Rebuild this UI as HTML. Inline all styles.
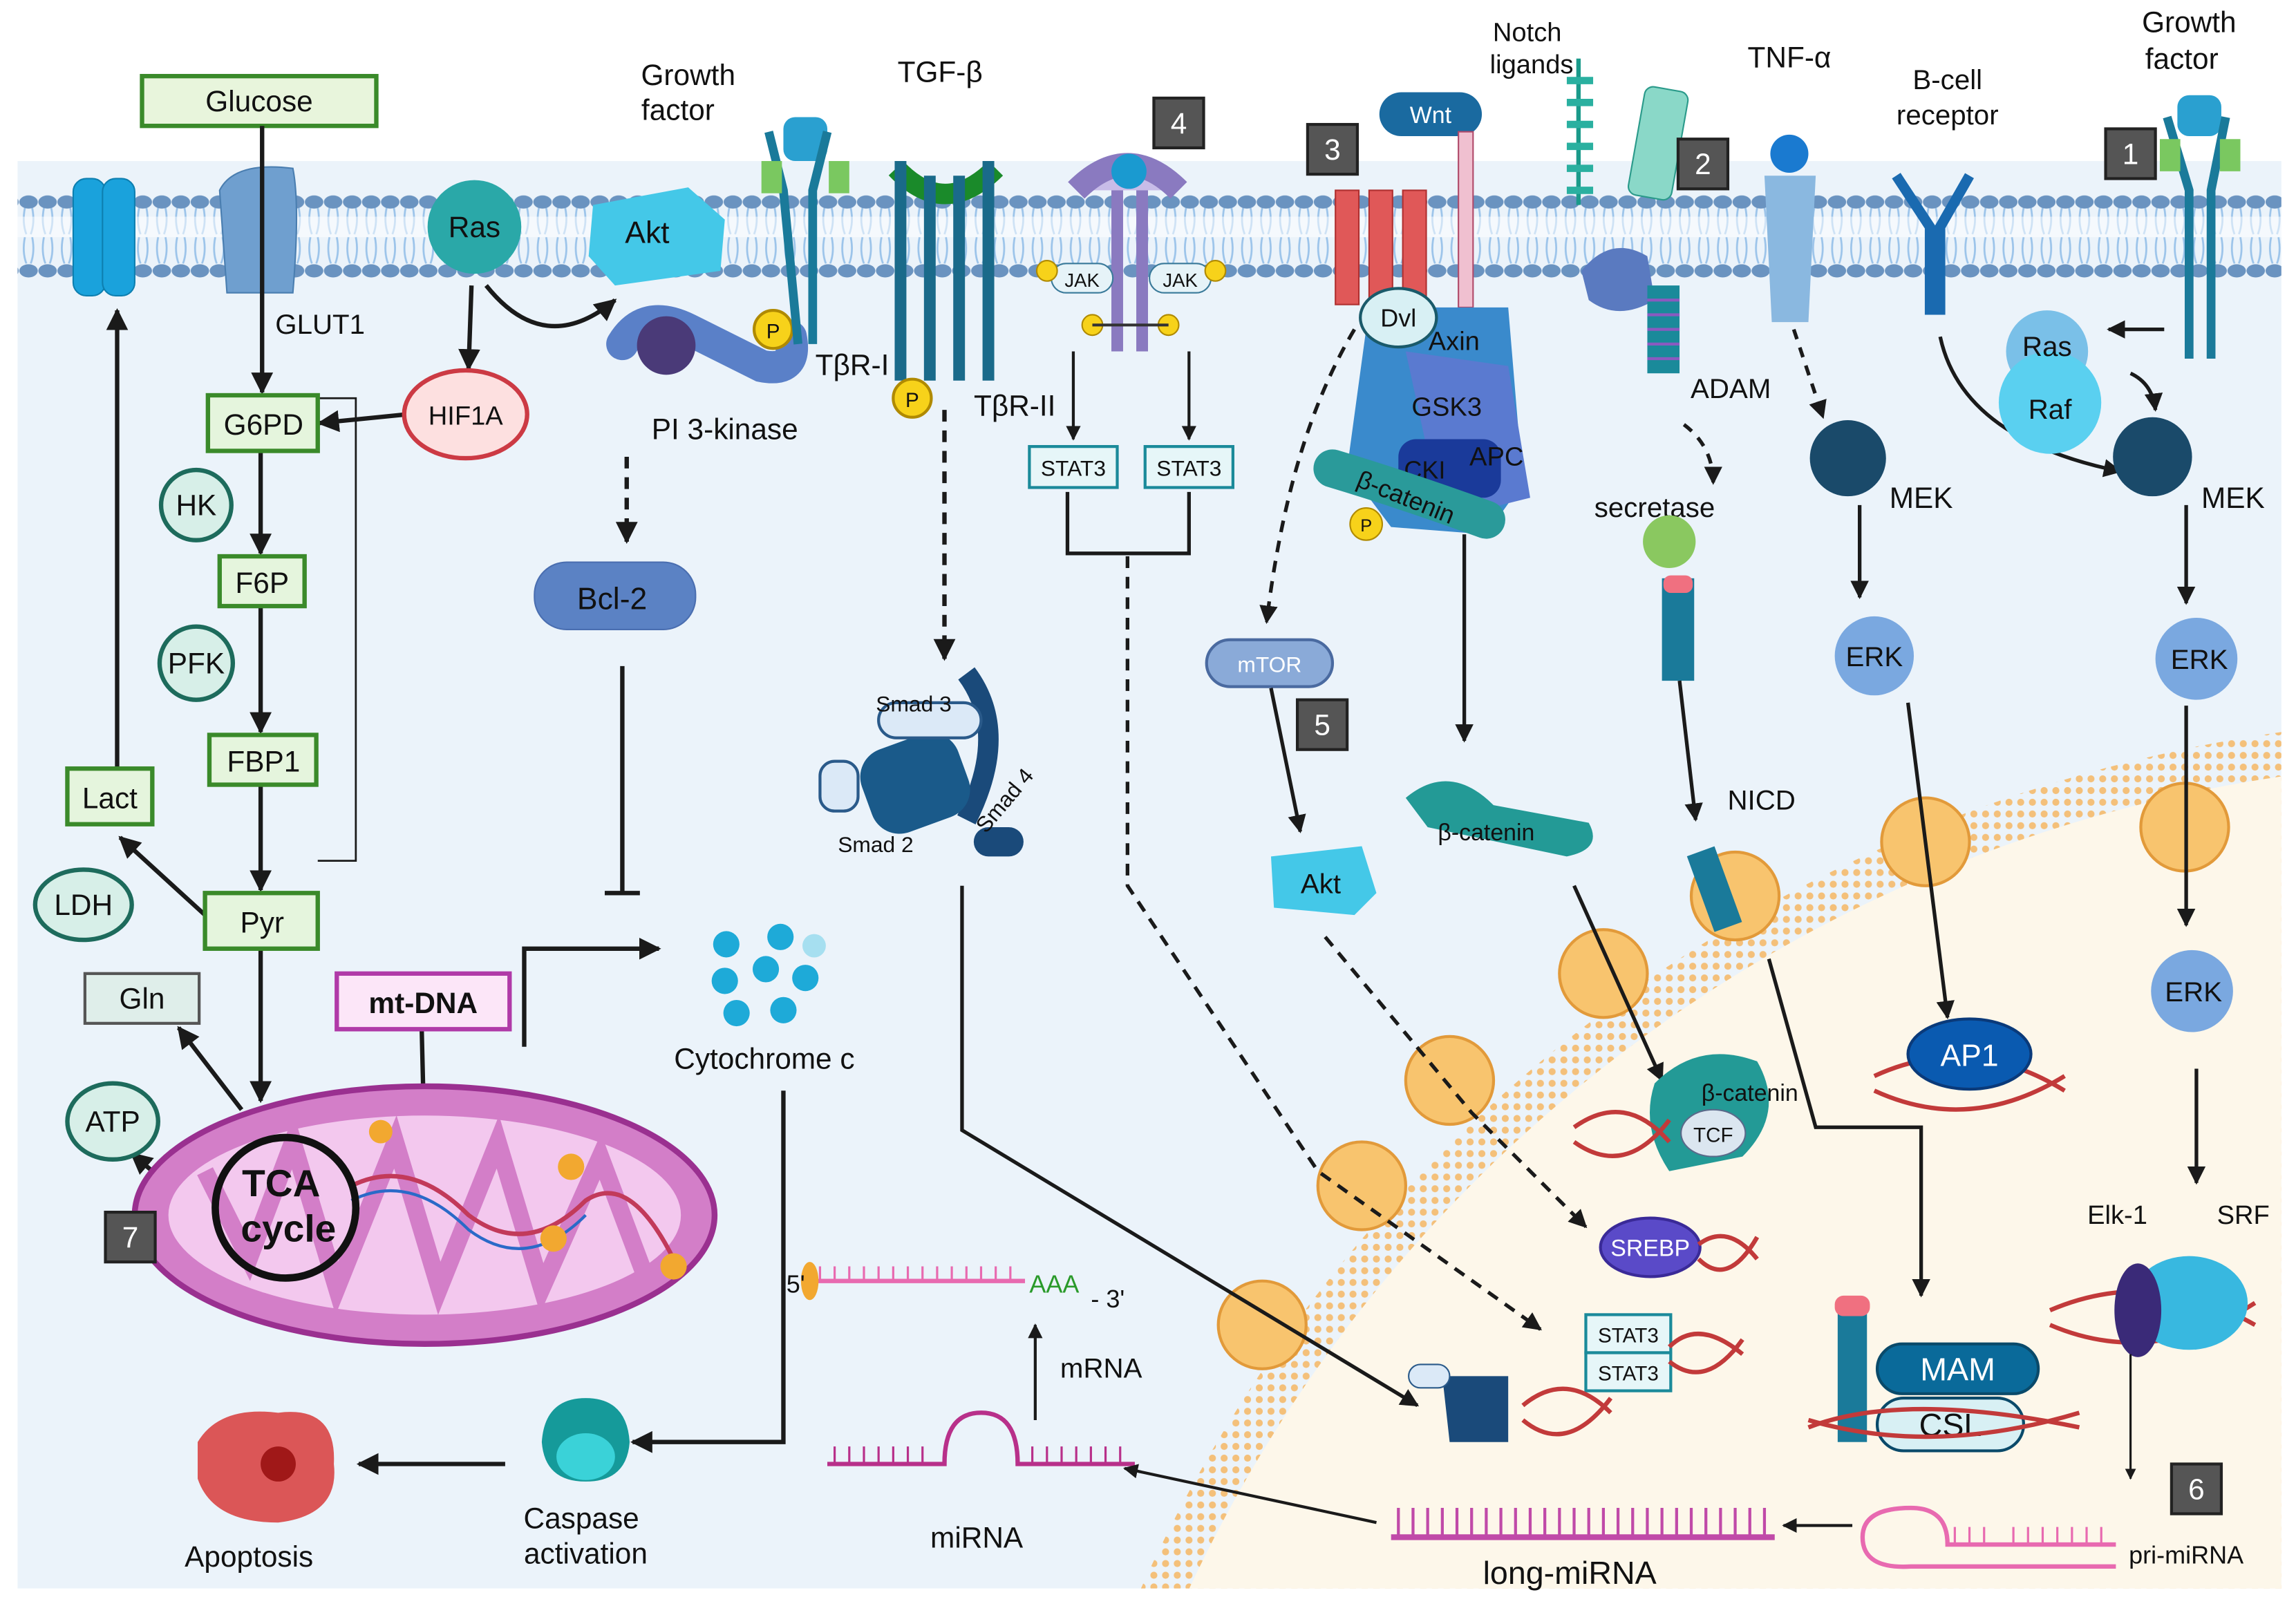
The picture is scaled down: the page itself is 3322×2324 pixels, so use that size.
<!DOCTYPE html>
<html><head><meta charset="utf-8"><style>
html,body{margin:0;padding:0;background:#fff;width:3322px;height:2324px;overflow:hidden}
svg{display:block}
text{font-family:"Liberation Sans",sans-serif;fill:#111}
</style></head><body>
<svg width="3322" height="2324" viewBox="0 0 1568 1097" preserveAspectRatio="none" xmlns="http://www.w3.org/2000/svg">
<defs>
<marker id="ah" viewBox="0 0 10 10" refX="9" refY="5" markerWidth="5" markerHeight="5" orient="auto"><path d="M0,0L10,5L0,10z" fill="#1a1a1a"/></marker>
<pattern id="mem" width="13" height="66" patternUnits="userSpaceOnUse" y="128">
<path d="M4,14 Q2,24 5,32 M9,14 Q11,24 8,32 M4,34 Q2,44 5,52 M9,34 Q11,44 8,52" stroke="#9cc4ea" stroke-width="1.3" fill="none"/>
<ellipse cx="6.5" cy="10" rx="6.3" ry="4.5" fill="#6a93c0"/>
<ellipse cx="6.5" cy="57" rx="6.3" ry="4.5" fill="#6a93c0"/>
</pattern>
<pattern id="nmem" width="8" height="8" patternUnits="userSpaceOnUse"><circle cx="4" cy="4" r="2.4" fill="#f4c07a"/></pattern>
<clipPath id="panel"><rect x="12" y="110" width="1546" height="975"/></clipPath>
</defs>
<rect width="1568" height="1097" fill="#fff"/>
<rect x="12" y="110" width="1546" height="975" fill="#ebf3fa"/>
<rect x="12" y="128" width="1546" height="70" fill="url(#mem)"/>
<rect x="12" y="148" width="1546" height="14" fill="#fff" opacity="0.5"/>
<g clip-path="url(#panel)">
<circle cx="1700" cy="1500" r="1010" fill="url(#nmem)"/>
<circle cx="1700" cy="1500" r="980" fill="#fdf7ea"/>
<g fill="#f8c46e" stroke="#e29a3a" stroke-width="2">
<circle cx="862" cy="905" r="30"/><circle cx="930" cy="810" r="30"/><circle cx="990" cy="738" r="30"/>
<circle cx="1095" cy="665" r="30"/><circle cx="1185" cy="612" r="30"/><circle cx="1315" cy="575" r="30"/><circle cx="1492" cy="565" r="30"/>
</g>
</g>
<rect x="50" y="122" width="22" height="80" rx="9" fill="#1aa2dc" stroke="#0d7fb0"/>
<rect x="70" y="122" width="22" height="80" rx="9" fill="#1aa2dc" stroke="#0d7fb0"/>
<path d="M150,130 Q160,110 200,115 Q205,140 200,200 L155,200 Q152,160 150,130z" fill="#6f9fcf" stroke="#4a7eb0"/>
<text x="188" y="228" font-size="19">GLUT1</text>
<rect x="97" y="52" width="160" height="34" fill="#e8f5dc" stroke="#3a8a2a" stroke-width="3"/>
<text x="177" y="76" font-size="20" text-anchor="middle">Glucose</text>
<g stroke="#1a1a1a" stroke-width="3" fill="none" marker-end="url(#ah)">
<line x1="179" y1="86" x2="179" y2="268"/>
<line x1="178" y1="308" x2="178" y2="378"/>
<line x1="178" y1="414" x2="178" y2="500"/>
<line x1="178" y1="536" x2="178" y2="608"/>
<line x1="178" y1="648" x2="178" y2="752"/>
<line x1="80" y1="525" x2="80" y2="212"/>
<line x1="140" y1="625" x2="82" y2="572"/>
<line x1="165" y1="758" x2="122" y2="702"/>
<line x1="110" y1="805" x2="90" y2="788"/>
<line x1="278" y1="283" x2="218" y2="289"/>
<line x1="322" y1="195" x2="320" y2="252"/>
<path d="M332,195 Q372,245 420,205"/>
<line x1="288" y1="703" x2="290" y2="785"/>
<path d="M358,715 L358,648 L450,648"/>
<path d="M535,745 L535,985 L432,985"/>
<line x1="345" y1="1000" x2="245" y2="1000"/>
</g>
<path d="M217,272 L243,272 L243,588 L217,588" stroke="#1a1a1a" stroke-width="1.3" fill="none"/>
<g stroke="#3a8a2a" stroke-width="3" fill="#e5f5dd">
<rect x="142" y="270" width="75" height="38"/><rect x="150" y="380" width="58" height="34"/>
<rect x="143" y="502" width="73" height="34"/><rect x="140" y="610" width="77" height="38"/>
<rect x="46" y="525" width="58" height="38"/>
</g>
<rect x="58" y="665" width="78" height="34" fill="#dfeeea" stroke="#555" stroke-width="2"/>
<g font-size="20" text-anchor="middle">
<text x="180" y="297">G6PD</text><text x="179" y="405">F6P</text><text x="180" y="527">FBP1</text>
<text x="179" y="637">Pyr</text><text x="75" y="552">Lact</text><text x="97" y="689">Gln</text>
</g>
<g fill="#d7efe8" stroke="#1d6b5c" stroke-width="3">
<circle cx="134" cy="345" r="24"/><circle cx="134" cy="453" r="25"/>
<ellipse cx="57" cy="618" rx="33" ry="24"/><ellipse cx="77" cy="766" rx="31" ry="26"/>
</g>
<g font-size="20" text-anchor="middle">
<text x="134" y="352">HK</text><text x="134" y="460">PFK</text><text x="57" y="625">LDH</text><text x="77" y="773">ATP</text>
</g>
<ellipse cx="318" cy="283" rx="42" ry="30" fill="#fde0e0" stroke="#cc3a44" stroke-width="3"/>
<text x="318" y="290" font-size="18" text-anchor="middle">HIF1A</text>
<circle cx="324" cy="155" r="32" fill="#2aa8a8"/><text x="324" y="162" font-size="20" text-anchor="middle">Ras</text>
<path d="M405,140 L470,128 L495,150 L492,185 L420,195 L402,175z" fill="#44c8e8"/><text x="442" y="166" font-size="21" text-anchor="middle">Akt</text>
<path d="M425,235 Q440,210 470,225 Q500,240 520,250 Q545,255 540,230" stroke="#5a80c8" stroke-width="22" fill="none" stroke-linecap="round"/>
<circle cx="455" cy="236" r="20" fill="#4a3a78"/>
<circle cx="528" cy="225" r="13" fill="#f7d21a" stroke="#b08a00" stroke-width="2"/><text x="528" y="231" font-size="14" text-anchor="middle">P</text>
<text x="495" y="300" font-size="20" text-anchor="middle">PI 3-kinase</text>
<line x1="428" y1="312" x2="428" y2="370" stroke="#1a1a1a" stroke-width="3" stroke-dasharray="8,6" marker-end="url(#ah)"/>
<rect x="365" y="384" width="110" height="46" rx="22" fill="#5b82c4" stroke="#4a6eb0"/>
<text x="418" y="416" font-size="21" text-anchor="middle">Bcl-2</text>
<line x1="425" y1="455" x2="425" y2="610" stroke="#1a1a1a" stroke-width="3"/>
<line x1="413" y1="610" x2="437" y2="610" stroke="#1a1a1a" stroke-width="3"/>
<g fill="#1eaad8"><circle cx="496" cy="645" r="9"/><circle cx="533" cy="640" r="9"/><circle cx="523" cy="662" r="9"/><circle cx="495" cy="670" r="9"/><circle cx="550" cy="668" r="9"/><circle cx="503" cy="692" r="9"/><circle cx="535" cy="690" r="9"/></g>
<circle cx="556" cy="646" r="8" fill="#a6dff0"/>
<text x="522" y="730" font-size="20" text-anchor="middle">Cytochrome c</text>
<ellipse cx="290" cy="830" rx="198" ry="88" fill="#d37ec8" stroke="#9a3090" stroke-width="4"/>
<ellipse cx="290" cy="830" rx="175" ry="68" fill="#f3c8ee"/>
<path d="M140,800 L170,860 L200,780 L230,880 L270,780 L300,880 L340,780 L370,880 L410,790 L440,870" stroke="#d37ec8" stroke-width="12" fill="none"/>
<path d="M240,810 Q280,790 320,830 Q360,860 400,820 Q430,800 460,860" stroke="#c23a5a" stroke-width="3" fill="none"/>
<path d="M240,820 Q280,800 320,840 Q360,870 400,830" stroke="#2a6ac8" stroke-width="2" fill="none"/>
<g fill="#f2a830"><circle cx="260" cy="773" r="8"/><circle cx="390" cy="797" r="9"/><circle cx="378" cy="846" r="9"/><circle cx="460" cy="865" r="9"/></g>
<circle cx="195" cy="825" r="48" fill="none" stroke="#111" stroke-width="5"/>
<text x="192" y="817" font-size="26" font-weight="bold" text-anchor="middle">TCA</text>
<text x="197" y="848" font-size="26" font-weight="bold" text-anchor="middle">cycle</text>
<rect x="72" y="828" width="34" height="34" fill="#555" stroke="#222" stroke-width="2"/><text x="89" y="852" font-size="20" text-anchor="middle" style="fill:#fff">7</text>
<rect x="230" y="665" width="118" height="38" fill="#fce6f8" stroke="#b03aa8" stroke-width="3"/>
<text x="289" y="692" font-size="20" font-weight="bold" text-anchor="middle">mt-DNA</text>
<path d="M370,985 Q372,955 400,955 Q428,955 430,985 Q428,1012 400,1012 Q372,1012 370,985z" fill="#159a9a"/>
<ellipse cx="400" cy="995" rx="20" ry="16" fill="#3ad2d8"/>
<text x="397" y="1044" font-size="20" text-anchor="middle">Caspase</text><text x="400" y="1068" font-size="20" text-anchor="middle">activation</text>
<path d="M135,985 Q150,960 190,965 Q230,960 228,1000 Q232,1035 190,1040 Q145,1040 135,1010z" fill="#d83a3a" opacity="0.85"/>
<circle cx="190" cy="1000" r="12" fill="#a01818"/>
<text x="170" y="1070" font-size="20" text-anchor="middle">Apoptosis</text>
<line x1="555" y1="875" x2="700" y2="875" stroke="#e86ab0" stroke-width="3"/>
<path d="M560,875 v-10 M570,875 v-10 M580,875 v-10 M590,875 v-10 M600,875 v-10 M610,875 v-10 M620,875 v-10 M630,875 v-10 M640,875 v-10 M650,875 v-10 M660,875 v-10 M670,875 v-10 M680,875 v-10 M690,875 v-10" stroke="#e86ab0" stroke-width="1.5"/>
<ellipse cx="553" cy="875" rx="6" ry="13" fill="#f2a830"/>
<text x="537" y="883" font-size="17">5'</text>
<text x="703" y="883" font-size="17" style="fill:#2a9a2a">AAA</text>
<text x="745" y="893" font-size="17">- 3'</text>
<text x="752" y="941" font-size="19" text-anchor="middle">mRNA</text>
<line x1="707" y1="970" x2="707" y2="905" stroke="#1a1a1a" stroke-width="2" marker-end="url(#ah)"/>
<path d="M565,1000 L645,1000 Q645,965 670,965 Q695,965 695,1000 L775,1000" stroke="#b8308a" stroke-width="3" fill="none"/>
<path d="M570,1000 v-12 M580,1000 v-12 M590,1000 v-12 M600,1000 v-12 M610,1000 v-12 M620,1000 v-12 M630,1000 v-12 M705,1000 v-12 M715,1000 v-12 M725,1000 v-12 M735,1000 v-12 M745,1000 v-12 M755,1000 v-12 M765,1000 v-12" stroke="#b8308a" stroke-width="1.5"/>
<text x="667" y="1057" font-size="20" text-anchor="middle">miRNA</text>
<line x1="940" y1="1040" x2="768" y2="1003" stroke="#1a1a1a" stroke-width="2" marker-end="url(#ah)"/>
<line x1="950" y1="1050" x2="1212" y2="1050" stroke="#c04aa8" stroke-width="4"/>
<path d="M955,1050 v-20 M965,1050 v-20 M975,1050 v-20 M985,1050 v-20 M995,1050 v-20 M1005,1050 v-20 M1015,1050 v-20 M1025,1050 v-20 M1035,1050 v-20 M1045,1050 v-20 M1055,1050 v-20 M1065,1050 v-20 M1075,1050 v-20 M1085,1050 v-20 M1095,1050 v-20 M1105,1050 v-20 M1115,1050 v-20 M1125,1050 v-20 M1135,1050 v-20 M1145,1050 v-20 M1155,1050 v-20 M1165,1050 v-20 M1175,1050 v-20 M1185,1050 v-20 M1195,1050 v-20 M1205,1050 v-20" stroke="#c04aa8" stroke-width="2"/>
<text x="1072" y="1082" font-size="22" text-anchor="middle">long-miRNA</text>
<line x1="1265" y1="1042" x2="1218" y2="1042" stroke="#1a1a1a" stroke-width="2" marker-end="url(#ah)"/>
<path d="M1445,1055 L1330,1055 Q1330,1030 1305,1030 Q1272,1030 1272,1050 Q1272,1072 1305,1070 L1445,1070" stroke="#e86ab0" stroke-width="3" fill="none"/>
<path d="M1335,1055 v-12 M1345,1055 v-12 M1355,1055 v-12 M1375,1055 v-12 M1385,1055 v-12 M1395,1055 v-12 M1405,1055 v-12 M1415,1055 v-12 M1425,1055 v-12 M1435,1055 v-12" stroke="#e86ab0" stroke-width="1.5"/>
<text x="1493" y="1068" font-size="17" text-anchor="middle">pri-miRNA</text>
<rect x="1483" y="1000" width="34" height="34" fill="#555" stroke="#222" stroke-width="2"/><text x="1500" y="1024" font-size="20" text-anchor="middle" style="fill:#fff">6</text>
<text x="470" y="58" font-size="20" text-anchor="middle">Growth</text><text x="463" y="82" font-size="20" text-anchor="middle">factor</text>
<rect x="535" y="80" width="30" height="30" rx="8" fill="#2aa0d0"/>
<path d="M525,90 L535,130 L545,235 M565,90 L555,130 L555,235" stroke="#1a7a9a" stroke-width="6" fill="none"/>
<rect x="520" y="110" width="14" height="22" fill="#7ac860"/><rect x="566" y="110" width="14" height="22" fill="#7ac860"/>
<text x="642" y="56" font-size="20" text-anchor="middle">TGF-β</text>
<path d="M612,115 Q645,150 680,115" stroke="#1a8a2a" stroke-width="14" fill="none"/>
<g stroke="#1a6a8a" stroke-width="8"><line x1="615" y1="110" x2="615" y2="260"/><line x1="635" y1="120" x2="635" y2="260"/><line x1="655" y1="120" x2="655" y2="260"/><line x1="675" y1="110" x2="675" y2="260"/></g>
<circle cx="623" cy="272" r="13" fill="#f7d21a" stroke="#b08a00" stroke-width="2"/><text x="623" y="278" font-size="14" text-anchor="middle">P</text>
<text x="582" y="256" font-size="20" text-anchor="middle">TβR-I</text><text x="693" y="284" font-size="20" text-anchor="middle">TβR-II</text>
<line x1="645" y1="280" x2="645" y2="450" stroke="#1a1a1a" stroke-width="3" stroke-dasharray="8,6" marker-end="url(#ah)"/>
<path d="M660,460 Q690,500 660,560" stroke="#1a4a7a" stroke-width="14" fill="none"/>
<rect x="590" y="505" width="70" height="60" rx="20" fill="#1a5a8a" transform="rotate(-20 625 535)"/>
<rect x="600" y="480" width="70" height="24" rx="12" fill="#dbe9f7" stroke="#2a5a8a" stroke-width="2"/>
<rect x="560" y="520" width="26" height="34" rx="10" fill="#dbe9f7" stroke="#2a5a8a" stroke-width="2"/>
<rect x="665" y="565" width="34" height="20" rx="10" fill="#1a4a7a"/>
<text x="624" y="486" font-size="15" text-anchor="middle">Smad 3</text>
<text x="598" y="582" font-size="15" text-anchor="middle">Smad 2</text>
<text x="690" y="550" font-size="15" text-anchor="middle" transform="rotate(-50 690 550)">Smad 4</text>
<path d="M657,605 L657,772 L968,960" stroke="#1a1a1a" stroke-width="2.5" fill="none" marker-end="url(#ah)"/>
<path d="M735,130 Q770,95 805,130" stroke="#8a7ac0" stroke-width="16" fill="#c8bce8"/>
<circle cx="771" cy="117" r="12" fill="#1a9ad0"/>
<g stroke="#8a7ac0" stroke-width="8"><line x1="763" y1="130" x2="763" y2="240"/><line x1="780" y1="130" x2="780" y2="240"/></g>
<rect x="788" y="67" width="34" height="34" fill="#555" stroke="#222" stroke-width="2"/><text x="805" y="91" font-size="20" text-anchor="middle" style="fill:#fff">4</text>
<rect x="718" y="180" width="42" height="20" rx="10" fill="#e6f3f8" stroke="#3a7a9a"/><text x="739" y="196" font-size="13" text-anchor="middle">JAK</text>
<rect x="785" y="180" width="42" height="20" rx="10" fill="#e6f3f8" stroke="#3a7a9a"/><text x="806" y="196" font-size="13" text-anchor="middle">JAK</text>
<g fill="#f7d21a" stroke="#b08a00"><circle cx="715" cy="185" r="7"/><circle cx="830" cy="185" r="7"/><circle cx="746" cy="222" r="7"/><circle cx="798" cy="222" r="7"/></g>
<line x1="746" y1="222" x2="798" y2="222" stroke="#333" stroke-width="2"/>
<g stroke="#1a1a1a" stroke-width="2" marker-end="url(#ah)"><line x1="733" y1="240" x2="733" y2="300"/><line x1="812" y1="240" x2="812" y2="300"/></g>
<rect x="703" y="305" width="60" height="28" fill="#e6f6f8" stroke="#1a8a9a" stroke-width="2"/><text x="733" y="325" font-size="15" text-anchor="middle">STAT3</text>
<rect x="782" y="305" width="60" height="28" fill="#e6f6f8" stroke="#1a8a9a" stroke-width="2"/><text x="812" y="325" font-size="15" text-anchor="middle">STAT3</text>
<path d="M729,336 L729,378 L812,378 L812,336" stroke="#1a1a1a" stroke-width="2.5" fill="none"/>
<path d="M770,380 L770,605 L900,800 L1052,908" stroke="#1a1a1a" stroke-width="2.5" stroke-dasharray="8,6" fill="none" marker-end="url(#ah)"/>
<rect x="1083" y="898" width="58" height="26" fill="#e6f6f8" stroke="#1a8a9a" stroke-width="2"/><text x="1112" y="917" font-size="14" text-anchor="middle">STAT3</text>
<rect x="1083" y="924" width="58" height="26" fill="#e6f6f8" stroke="#1a8a9a" stroke-width="2"/><text x="1112" y="943" font-size="14" text-anchor="middle">STAT3</text>
<path d="M1140,920 Q1160,900 1190,925 M1140,930 Q1165,950 1190,915" stroke="#c23a3a" stroke-width="3" fill="none"/>
<path d="M985,940 L1030,940 L1030,985 L990,985z" fill="#1a4a7a"/>
<rect x="962" y="932" width="28" height="16" rx="8" fill="#dbe9f7" stroke="#2a5a8a"/>
<path d="M1040,960 Q1070,935 1100,965 M1040,970 Q1070,995 1100,955" stroke="#c23a3a" stroke-width="3" fill="none"/>
<rect x="942" y="63" width="70" height="30" rx="15" fill="#1a6aa0"/><text x="977" y="84" font-size="16" text-anchor="middle" style="fill:#fff">Wnt</text>
<rect x="893" y="85" width="34" height="34" fill="#555" stroke="#222" stroke-width="2"/><text x="910" y="109" font-size="20" text-anchor="middle" style="fill:#fff">3</text>
<g fill="#e05858" stroke="#b03030"><rect x="912" y="130" width="16" height="78"/><rect x="935" y="130" width="16" height="78"/><rect x="958" y="130" width="16" height="78"/></g>
<rect x="996" y="90" width="10" height="120" fill="#f0c0d0" stroke="#b04a6a"/>
<path d="M925,225 Q880,300 865,425" stroke="#1a1a1a" stroke-width="2.5" stroke-dasharray="8,6" fill="none" marker-end="url(#ah)"/>
<path d="M935,210 L1030,210 L1040,330 L1015,365 L950,360 L920,320z" fill="#3a8acc"/>
<path d="M960,240 L1030,250 L1045,340 L985,355z" fill="#5a7ad0"/>
<ellipse cx="955" cy="217" rx="26" ry="20" fill="#d8f0f4" stroke="#1a5a6a" stroke-width="2"/><text x="955" y="223" font-size="17" text-anchor="middle">Dvl</text>
<text x="993" y="239" font-size="18" text-anchor="middle">Axin</text>
<text x="988" y="284" font-size="18" text-anchor="middle">GSK3</text>
<rect x="955" y="300" width="70" height="40" rx="12" fill="#1a3a9a"/>
<text x="973" y="327" font-size="17" text-anchor="middle">CKI</text><text x="1022" y="318" font-size="18" text-anchor="middle">APC</text>
<path d="M910,320 Q960,335 1015,355" stroke="#2a9a9a" stroke-width="26" fill="none" stroke-linecap="round"/>
<text x="958" y="345" font-size="17" text-anchor="middle" transform="rotate(22 958 345)">β-catenin</text>
<circle cx="933" cy="358" r="11" fill="#f7d21a" stroke="#b08a00"/><text x="933" y="363" font-size="12" text-anchor="middle">P</text>
<line x1="1000" y1="365" x2="1000" y2="506" stroke="#1a1a1a" stroke-width="2.5" marker-end="url(#ah)"/>
<path d="M960,545 Q990,520 1020,550 L1085,562 Q1095,580 1070,585 L975,565z" fill="#239a96"/>
<text x="1015" y="574" font-size="16" text-anchor="middle">β-catenin</text>
<line x1="1075" y1="605" x2="1135" y2="738" stroke="#1a1a1a" stroke-width="2.5" marker-end="url(#ah)"/>
<path d="M1130,740 Q1160,710 1200,725 Q1220,760 1190,790 L1140,800 Q1120,770 1130,740z" fill="#239a96"/>
<ellipse cx="1170" cy="774" rx="22" ry="16" fill="#dbe6f0" stroke="#5a6a8a"/><text x="1170" y="780" font-size="14" text-anchor="middle">TCF</text>
<text x="1195" y="752" font-size="16" text-anchor="middle">β-catenin</text>
<path d="M1075,770 Q1110,745 1140,780 M1075,780 Q1110,805 1140,765" stroke="#c23a3a" stroke-width="3" fill="none"/>
<rect x="824" y="437" width="86" height="32" rx="16" fill="#8aaad8" stroke="#4a6aa0" stroke-width="2"/><text x="867" y="459" font-size="15" text-anchor="middle" style="fill:#fff">mTOR</text>
<rect x="886" y="478" width="34" height="34" fill="#555" stroke="#222" stroke-width="2"/><text x="903" y="502" font-size="20" text-anchor="middle" style="fill:#fff">5</text>
<line x1="868" y1="470" x2="888" y2="568" stroke="#1a1a1a" stroke-width="2.5" marker-end="url(#ah)"/>
<path d="M868,585 L930,578 L940,610 L925,625 L870,620z" fill="#44c8e8"/><text x="902" y="610" font-size="19" text-anchor="middle">Akt</text>
<path d="M905,640 L1005,760 L1083,838" stroke="#1a1a1a" stroke-width="2.5" stroke-dasharray="8,6" fill="none" marker-end="url(#ah)"/>
<ellipse cx="1127" cy="852" rx="34" ry="20" fill="#5a4ac8" stroke="#3a2a98" stroke-width="2"/><text x="1127" y="858" font-size="16" text-anchor="middle" style="fill:#fff">SREBP</text>
<path d="M1160,850 Q1180,835 1200,860 M1160,860 Q1180,880 1200,845" stroke="#c23a3a" stroke-width="3" fill="none"/>
<text x="1043" y="28" font-size="18" text-anchor="middle">Notch</text><text x="1046" y="50" font-size="18" text-anchor="middle">ligands</text>
<g stroke="#1a9a8a" stroke-width="3"><line x1="1078" y1="40" x2="1078" y2="140"/></g>
<path d="M1070,55 h18 M1070,70 h18 M1070,85 h18 M1070,100 h18 M1070,115 h18 M1070,130 h18" stroke="#2ab0a0" stroke-width="5"/>
<rect x="1117" y="60" width="30" height="75" rx="6" fill="#8ad8c8" stroke="#2a9a8a" transform="rotate(10 1130 100)"/>
<rect x="1146" y="95" width="34" height="34" fill="#555" stroke="#222" stroke-width="2"/><text x="1163" y="119" font-size="20" text-anchor="middle" style="fill:#fff">2</text>
<path d="M1080,185 Q1100,160 1125,175 L1130,205 Q1105,220 1085,205z" fill="#5a7ac0"/>
<g fill="#1a8a9a"><rect x="1125" y="195" width="22" height="60"/></g>
<path d="M1125,205 h22 M1125,215 h22 M1125,225 h22 M1125,235 h22 M1125,245 h22" stroke="#8a5ac0" stroke-width="2"/>
<text x="1182" y="272" font-size="19" text-anchor="middle">ADAM</text>
<path d="M1150,290 Q1170,305 1170,330" stroke="#1a1a1a" stroke-width="2.5" stroke-dasharray="7,6" fill="none" marker-end="url(#ah)"/>
<text x="1130" y="353" font-size="19" text-anchor="middle">secretase</text>
<circle cx="1140" cy="370" r="18" fill="#8ac860"/>
<rect x="1135" y="395" width="22" height="70" fill="#1a7a9a"/><rect x="1136" y="393" width="20" height="12" rx="5" fill="#f07080"/>
<line x1="1147" y1="465" x2="1158" y2="560" stroke="#1a1a1a" stroke-width="2.5" marker-end="url(#ah)"/>
<text x="1203" y="553" font-size="19" text-anchor="middle">NICD</text>
<rect x="1160" y="580" width="20" height="55" fill="#1a7a9a" transform="rotate(-20 1170 605)"/>
<path d="M1208,655 L1240,770 L1312,770 L1312,885" stroke="#1a1a1a" stroke-width="2.5" fill="none" marker-end="url(#ah)"/>
<rect x="1255" y="890" width="20" height="95" fill="#1a7a9a"/><rect x="1253" y="885" width="24" height="14" rx="6" fill="#f07080"/>
<rect x="1282" y="918" width="110" height="34" rx="17" fill="#0a6a9a" stroke="#0a4a6a" stroke-width="2"/><text x="1337" y="943" font-size="22" text-anchor="middle" style="fill:#fff">MAM</text>
<rect x="1282" y="955" width="100" height="36" rx="18" fill="#d8f0f4" stroke="#0a4a6a" stroke-width="2"/><text x="1332" y="981" font-size="22" text-anchor="middle">CSL</text>
<path d="M1235,975 Q1300,950 1420,975 M1235,970 Q1320,995 1420,965" stroke="#c23a3a" stroke-width="3" fill="none"/>
<text x="1222" y="46" font-size="20" text-anchor="middle">TNF-α</text>
<circle cx="1222" cy="105" r="13" fill="#1a7ad0"/>
<path d="M1205,120 L1240,120 L1235,220 L1210,220z" fill="#8ab8e0"/>
<line x1="1225" y1="225" x2="1245" y2="285" stroke="#1a1a1a" stroke-width="2.5" stroke-dasharray="7,6" marker-end="url(#ah)"/>
<circle cx="1262" cy="313" r="26" fill="#1a4a6a"/>
<text x="1312" y="347" font-size="20" text-anchor="middle">MEK</text>
<line x1="1270" y1="345" x2="1270" y2="408" stroke="#1a1a1a" stroke-width="2.5" marker-end="url(#ah)"/>
<circle cx="1280" cy="448" r="27" fill="#7aa8e0"/><text x="1280" y="455" font-size="19" text-anchor="middle">ERK</text>
<line x1="1303" y1="480" x2="1330" y2="695" stroke="#1a1a1a" stroke-width="2.5" marker-end="url(#ah)"/>
<path d="M1280,735 Q1345,705 1410,745 M1280,745 Q1345,775 1410,735" stroke="#c23a3a" stroke-width="3" fill="none"/>
<ellipse cx="1345" cy="720" rx="42" ry="24" fill="#0a5ab0" stroke="#0a3a7a" stroke-width="2"/><text x="1345" y="728" font-size="21" text-anchor="middle" style="fill:#fff">AP1</text>
<text x="1330" y="61" font-size="19" text-anchor="middle">B-cell</text><text x="1330" y="85" font-size="19" text-anchor="middle">receptor</text>
<path d="M1295,120 L1318,155 L1318,215 M1345,120 L1325,155 L1325,215" stroke="#1a6ab0" stroke-width="7" fill="none"/>
<path d="M1325,230 Q1340,300 1448,322" stroke="#1a1a1a" stroke-width="2.5" fill="none" marker-end="url(#ah)"/>
<text x="1495" y="22" font-size="20" text-anchor="middle">Growth</text><text x="1490" y="47" font-size="20" text-anchor="middle">factor</text>
<rect x="1487" y="65" width="30" height="28" rx="8" fill="#2aa0d0"/>
<path d="M1480,80 L1495,130 L1495,245 M1520,80 L1510,130 L1510,245" stroke="#1a7a9a" stroke-width="6" fill="none"/>
<rect x="1475" y="95" width="14" height="22" fill="#7ac860"/><rect x="1516" y="95" width="14" height="22" fill="#7ac860"/>
<rect x="1438" y="88" width="34" height="34" fill="#555" stroke="#222" stroke-width="2"/><text x="1455" y="112" font-size="20" text-anchor="middle" style="fill:#fff">1</text>
<line x1="1478" y1="225" x2="1440" y2="225" stroke="#1a1a1a" stroke-width="2.5" marker-end="url(#ah)"/>
<circle cx="1398" cy="240" r="28" fill="#7ac0e8"/><circle cx="1400" cy="275" r="35" fill="#5ad0f0"/>
<text x="1398" y="243" font-size="19" text-anchor="middle">Ras</text><text x="1400" y="286" font-size="19" text-anchor="middle">Raf</text>
<path d="M1455,255 Q1470,262 1472,280" stroke="#1a1a1a" stroke-width="2.5" fill="none" marker-end="url(#ah)"/>
<circle cx="1470" cy="312" r="27" fill="#1a4a6a"/>
<text x="1525" y="347" font-size="20" text-anchor="middle">MEK</text>
<line x1="1493" y1="345" x2="1493" y2="412" stroke="#1a1a1a" stroke-width="2.5" marker-end="url(#ah)"/>
<circle cx="1500" cy="450" r="28" fill="#7aa8e0"/><text x="1502" y="457" font-size="19" text-anchor="middle">ERK</text>
<line x1="1493" y1="482" x2="1493" y2="632" stroke="#1a1a1a" stroke-width="2.5" marker-end="url(#ah)"/>
<circle cx="1497" cy="677" r="28" fill="#7aa8e0"/><text x="1498" y="684" font-size="19" text-anchor="middle">ERK</text>
<line x1="1500" y1="730" x2="1500" y2="808" stroke="#1a1a1a" stroke-width="2.5" marker-end="url(#ah)"/>
<text x="1446" y="836" font-size="18" text-anchor="middle">Elk-1</text><text x="1532" y="836" font-size="18" text-anchor="middle">SRF</text>
<path d="M1400,895 Q1470,865 1540,905 M1400,905 Q1470,935 1540,890" stroke="#c23a3a" stroke-width="3" fill="none"/>
<ellipse cx="1495" cy="890" rx="40" ry="32" fill="#38b8e0"/>
<ellipse cx="1460" cy="895" rx="16" ry="32" fill="#3a2a78"/>
<line x1="1455" y1="925" x2="1455" y2="1010" stroke="#1a1a1a" stroke-width="1.5" marker-end="url(#ah)"/>
</svg>
</body></html>
